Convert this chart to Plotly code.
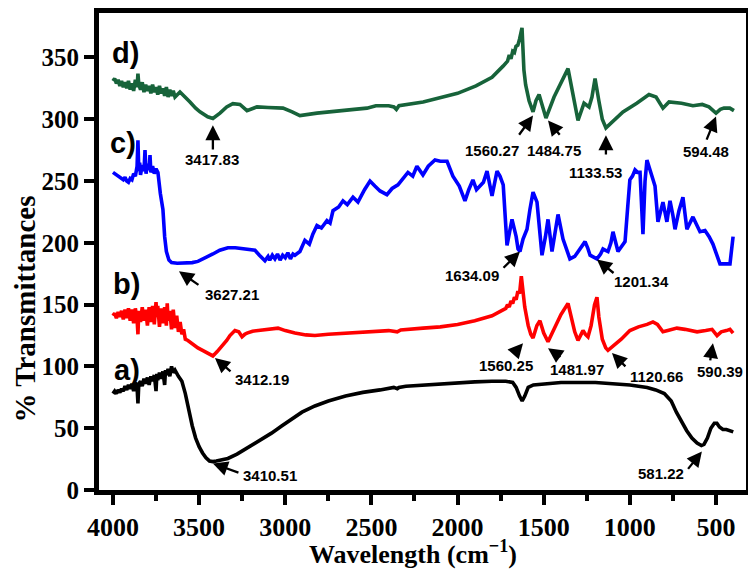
import plotly.graph_objects as go

# ---------------- data ----------------
wn_a = [4000, 3990, 3980, 3970, 3960, 3950, 3940, 3930, 3920, 3910, 3900, 3890, 3880, 3870, 3860, 3855,
        3850, 3840, 3830, 3820, 3810, 3800, 3790, 3780, 3770, 3760, 3750, 3745, 3740, 3730, 3720, 3710,
        3700, 3695, 3690, 3680, 3670, 3660, 3650, 3640, 3620, 3600, 3580, 3560, 3540, 3520, 3500, 3480,
        3460, 3440, 3420, 3400, 3370, 3333, 3280, 3234, 3180, 3135, 3080, 3019, 2960, 2903, 2828, 2750,
        2650, 2550, 2450, 2370, 2350, 2340, 2300, 2200, 2100, 2000, 1900, 1800, 1720, 1680, 1660, 1640,
        1625, 1610, 1590, 1560, 1500, 1400, 1300, 1200, 1100, 1000, 900, 850, 800, 760, 730, 700,
        670, 640, 610, 585, 570, 550, 530, 510, 495, 480, 460, 440, 420, 400]
t_a = [78, 80, 78, 81, 79, 82, 80, 84, 81, 85, 82, 86, 80, 87, 83, 70,
       86, 88, 84, 90, 86, 91, 85, 92, 88, 93, 80, 94, 89, 95, 90, 96,
       85, 97, 93, 98, 92, 100, 95, 97, 92, 88, 78, 64, 52, 42, 35, 30,
       26, 23.5, 23, 23.5, 24.5, 25.5, 29, 33, 37, 41, 46, 52, 58, 63, 68, 72,
       76, 79, 81, 83, 82, 83, 84, 85, 86, 87, 87.5, 88, 88, 87, 83, 76,
       72, 76, 83, 85, 86, 87, 87, 87, 86, 85, 83, 81, 78, 72, 63, 55,
       48, 42, 38, 36, 37, 42, 50, 54, 54, 51, 49, 49, 48, 47]

wn_b = [4000, 3990, 3980, 3970, 3960, 3950, 3940, 3930, 3920, 3910, 3900, 3890, 3880, 3870, 3860, 3855,
        3850, 3840, 3830, 3820, 3810, 3800, 3790, 3780, 3770, 3760, 3750, 3745, 3740, 3730, 3720, 3710,
        3700, 3690, 3685, 3680, 3670, 3660, 3650, 3640, 3630, 3620, 3610, 3600, 3590, 3580, 3565, 3540,
        3507, 3480, 3449, 3420, 3395, 3368, 3340, 3321, 3292, 3270, 3251, 3235, 3222, 3190, 3158, 3100,
        3042, 3000, 2944, 2880, 2828, 2750, 2600, 2500, 2400, 2350, 2330, 2200, 2100, 2000, 1900, 1800,
        1750, 1720, 1710, 1700, 1690, 1680, 1670, 1660, 1650, 1640, 1630, 1620, 1610, 1590, 1575, 1562,
        1540, 1522, 1500, 1475, 1440, 1400, 1359, 1340, 1320, 1301, 1285, 1272, 1258, 1243, 1225, 1205,
        1191, 1180, 1160, 1140, 1127, 1100, 1050, 1000, 950, 900, 866, 840, 808, 780, 727, 680,
        610, 560, 523, 494, 470, 440, 419, 401]
t_b = [141, 143, 139, 144, 140, 145, 138, 146, 139, 147, 137, 146, 135, 147, 138, 126,
       145, 136, 148, 137, 146, 133, 148, 136, 149, 134, 152, 140, 149, 132, 147, 135,
       148, 133, 151, 137, 145, 130, 146, 131, 141, 128, 136, 126, 130, 122, 121, 118,
       115, 113, 111, 108.5, 112, 116, 121, 125, 129, 128, 124, 126, 127, 128.5, 129, 130,
       131, 129, 127, 125.5, 125, 126, 127, 128, 129, 128, 129.5, 131, 132, 134, 137, 141,
       145, 147, 150, 148, 153, 151, 156, 154, 161, 159, 173, 160, 148, 133, 126, 123,
       133, 137, 127, 120, 130, 142, 151, 140, 128, 121, 125, 129, 126, 124, 133, 150,
       156, 140, 122, 115, 113, 116, 122, 129, 132, 134, 136, 134, 128, 129, 131, 130,
       128, 129, 130, 125, 128, 129, 130, 127]

wn_c = [4000, 3990, 3980, 3970, 3960, 3950, 3940, 3930, 3920, 3910, 3900, 3890, 3880, 3870, 3860, 3855,
        3850, 3845, 3840, 3830, 3820, 3814, 3808, 3800, 3790, 3785, 3780, 3770, 3760, 3750, 3739, 3725,
        3710, 3700, 3690, 3675, 3660, 3627, 3580, 3540, 3507, 3460, 3420, 3380, 3333, 3290, 3250, 3200,
        3176, 3150, 3130, 3118, 3100, 3090, 3075, 3060, 3045, 3030, 3015, 3000, 2985, 2970, 2955, 2944,
        2915, 2886, 2860, 2840, 2816, 2790, 2758, 2740, 2723, 2690, 2665, 2640, 2607, 2578, 2540, 2508,
        2480, 2450, 2410, 2380, 2346, 2320, 2288, 2260, 2236, 2201, 2170, 2131, 2100, 2061, 2027, 1990,
        1957, 1935, 1911, 1890, 1870, 1850, 1829, 1800, 1771, 1754, 1735, 1713, 1684, 1660, 1649, 1638,
        1620, 1597, 1580, 1562, 1539, 1525, 1510, 1490, 1475, 1452, 1435, 1417, 1388, 1370, 1348, 1320,
        1301, 1280, 1260, 1245, 1231, 1191, 1170, 1156, 1127, 1110, 1098, 1069, 1050, 1028, 1012, 1000,
        985, 970, 955, 941, 924, 912, 901, 883, 854, 837, 820, 808, 785, 767, 750, 738,
        715, 692, 669, 650, 634, 593, 564, 540, 518, 477, 450, 419, 401]
t_c = [257, 256, 255, 254, 253, 252, 251, 253, 250, 249, 252, 251, 256, 254, 262, 283,
       258, 265, 255, 263, 258, 275, 256, 264, 259, 271, 257, 262, 256, 260, 257, 240,
       227, 205, 193, 186, 184, 183.5, 183.5, 184, 185, 188, 191, 194, 196, 196, 195.5, 195,
       194, 190, 187, 185.5, 189, 186, 190, 187, 191, 186, 190, 188, 192, 187, 191, 190,
       193, 202, 199, 207, 214, 212, 218, 216, 226, 229, 234, 231, 237, 233, 243, 250,
       246, 242, 239, 244, 247, 252, 257, 254, 262, 255, 262, 267, 266, 266, 254, 246,
       234, 243, 251, 243, 246, 249, 258, 238, 258, 254, 247, 198, 219, 205, 195, 193,
       203, 211, 227, 241, 233, 212, 190, 205, 219, 193, 208, 223, 203, 196, 187, 189,
       193, 198, 201, 196, 190, 187, 191, 195, 193, 200, 209, 193, 197, 201, 230, 251,
       254, 259, 257, 257, 207, 250, 267, 259, 246, 217, 228, 233, 217, 234, 222, 211,
       226, 237, 211, 216, 221, 209, 210, 205, 199, 183, 183, 183, 205]

wn_d = [4000, 3990, 3980, 3970, 3960, 3950, 3940, 3930, 3920, 3910, 3900, 3890, 3880, 3870, 3860, 3855,
        3850, 3840, 3830, 3820, 3810, 3800, 3790, 3780, 3770, 3760, 3750, 3740, 3730, 3720, 3710, 3700,
        3690, 3680, 3670, 3660, 3650, 3640, 3611, 3580, 3553, 3520, 3495, 3450, 3420, 3379, 3340, 3304,
        3263, 3222, 3164, 3100, 3013, 2960, 2915, 2816, 2723, 2600, 2526, 2474, 2400, 2369, 2355, 2340,
        2200, 2085, 2000, 1893, 1800, 1736, 1710, 1700, 1690, 1680, 1670, 1661, 1650, 1640, 1626, 1615,
        1605, 1585, 1562, 1545, 1527, 1510, 1487, 1440, 1400, 1359, 1330, 1301, 1266, 1237, 1220, 1202,
        1180, 1160, 1139, 1100, 1040, 960, 889, 848, 808, 773, 700, 634, 580, 541, 500, 475,
        454, 420, 396]
t_d = [331, 333, 329, 332, 327, 331, 326, 330, 325, 331, 324, 329, 323, 332, 326, 337,
       328, 324, 330, 322, 328, 323, 327, 321, 328, 322, 326, 320, 327, 321, 325, 319,
       326, 318, 324, 319, 323, 318, 322, 318, 314, 309, 306, 302, 300.6, 305, 310, 312.6,
       312, 307, 310, 309.5, 309, 306, 303, 305, 306, 308, 309, 311, 311, 310, 308, 311,
       314, 318, 321, 327, 334, 343, 347, 352, 349, 355, 354, 359, 360, 365, 374, 340,
       328, 315, 306, 315, 320, 312, 301, 318, 330, 341, 320, 299, 313, 310, 318, 333,
       315, 300, 293, 298, 306, 313, 320, 318, 309, 314, 313, 311, 312, 310, 305, 308,
       309, 309, 307]

# labels of the curves: (text, wavenumber, value)
curve_tags = ["a)", "b)", "c)", "d)"]
tag_x = [3919, 3919, 3942, 3930]
tag_y = [97, 167, 281, 354]

# peak annotations: label, arrow tip (x, y), arrow tail (x, y), text centre (x, y)
peak_text = ["3410.51", "3412.19", "3627.21", "3417.83",
             "581.22", "1560.25", "1481.97", "1120.66", "590.39",
             "1634.09", "1201.34",
             "1560.27", "1484.75", "1133.53", "594.48"]
tip_x = [3420, 3408, 3617, 3420, 582, 1620, 1475, 1104, 518, 1638, 1191, 1562, 1475, 1139, 500]
tip_y = [21.5, 106.9, 177, 295.1, 31.1, 118.8, 114.8, 110.8, 118.8, 193, 186.6, 303, 299, 287, 302.2]
tail_x = [3263, 3309, 3495, 3420, 669, 1680, 1394, 1017, 535, 1742, 1086, 1649, 1400, 1139, 558]
tail_y = [13.6, 94.9, 165.1, 274.3, 15.9, 109.3, 106.9, 98.9, 103.7, 178.6, 174.6, 286.3, 286.3, 270.3, 282.3]
text_x = [3089, 3135, 3309, 3425, 819, 1719, 1307, 843, 477, 1916, 930, 1800, 1441, 1197, 558]
text_y = [12, 89.3, 157.9, 267.1, 13.6, 100.5, 97.3, 91.7, 95.7, 173.8, 169.1, 275.1, 275.1, 256.8, 274.3]

x_ticks = [4000, 3500, 3000, 2500, 2000, 1500, 1000, 500]
y_ticks = [0, 50, 100, 150, 200, 250, 300, 350]

colors = ["#000000", "#ff0000", "#0000ff", "#17633a"]

# ---------------- figure ----------------
fig = go.Figure()
for wn, tv, col in [(wn_a, t_a, colors[0]), (wn_b, t_b, colors[1]),
                    (wn_c, t_c, colors[2]), (wn_d, t_d, colors[3])]:
    fig.add_trace(go.Scatter(x=wn, y=tv, mode="lines",
                             line=dict(color=col, width=3.6), showlegend=False,
                             hoverinfo="skip"))

serif = "Liberation Serif"
sans = "Liberation Sans"

annotations = []
for t, x, y in zip(curve_tags, tag_x, tag_y):
    annotations.append(dict(x=x, y=y, xref="x", yref="y", text="<b>%s</b>" % t,
                            showarrow=False, font=dict(family=sans, size=29, color="black"),
                            xanchor="center", yanchor="middle"))
for t, tx, ty, ax, ay, lx, ly in zip(peak_text, tip_x, tip_y, tail_x, tail_y, text_x, text_y):
    annotations.append(dict(x=tx, y=ty, xref="x", yref="y", ax=ax, ay=ay,
                            axref="x", ayref="y", text="", showarrow=True,
                            arrowhead=2, arrowsize=1.3, arrowwidth=2.3, arrowcolor="black"))
    annotations.append(dict(x=lx, y=ly, xref="x", yref="y", text="<b>%s</b>" % t,
                            showarrow=False, font=dict(family=sans, size=15, color="black"),
                            xanchor="center", yanchor="middle"))

annotations.append(dict(x=-0.115, y=146.6, xref="paper", yref="y",
                        text="<b>% Transmittances</b>", textangle=-90, showarrow=False,
                        font=dict(family=serif, size=29, color="black"),
                        xanchor="center", yanchor="middle"))
annotations.append(dict(x=2259, y=-0.1307, xref="x", yref="paper",
                        text="<b>Wavelength (cm<sup>−1</sup>)</b>", showarrow=False,
                        font=dict(family=serif, size=26, color="black"),
                        xanchor="center", yanchor="middle"))

fig.update_layout(
    width=756, height=572,
    margin=dict(l=91, r=18, t=0, b=90),
    paper_bgcolor="white", plot_bgcolor="white",
    annotations=annotations,
    xaxis=dict(range=[4081, 326], showgrid=False, zeroline=False,
               showline=True, linewidth=5, linecolor="black", mirror=True,
               ticks="outside", ticklen=10, tickwidth=4, tickcolor="black",
               tickvals=x_ticks, ticktext=["<b>%d</b>" % v for v in x_ticks],
               tickfont=dict(family=serif, size=26, color="black"),
               minor=dict(dtick=250, tick0=0, ticks="outside", ticklen=6,
                          tickwidth=4, tickcolor="black", showgrid=False)),
    yaxis=dict(range=[0, 386], showgrid=False, zeroline=False,
               showline=True, linewidth=5, linecolor="black", mirror=True,
               ticks="outside", ticklen=10, tickwidth=4, tickcolor="black",
               tickvals=y_ticks, ticktext=["<b>%d</b>" % v for v in y_ticks],
               tickfont=dict(family=serif, size=25, color="black")),
)

fig.write_html("out.html")
